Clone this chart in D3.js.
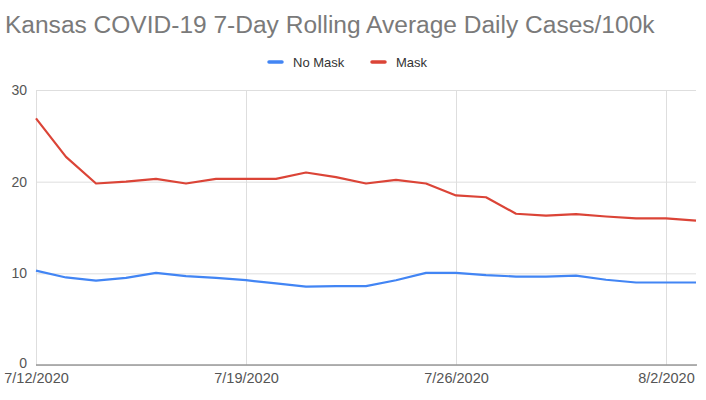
<!DOCTYPE html>
<html>
<head>
<meta charset="utf-8">
<script src="https://cdn.jsdelivr.net/npm/d3@7"></script>
<style>
  body { margin: 0; background: #fff; }
  svg { display: block; font-family: "Liberation Sans", Arial, sans-serif; }
</style>
</head>
<body>
<svg></svg>
<script>
let width = 706;
let height = 400;

let dates = ['7/12/2020', '7/13/2020', '7/14/2020', '7/15/2020', '7/16/2020', '7/17/2020',
  '7/18/2020', '7/19/2020', '7/20/2020', '7/21/2020', '7/22/2020', '7/23/2020', '7/24/2020',
  '7/25/2020', '7/26/2020', '7/27/2020', '7/28/2020', '7/29/2020', '7/30/2020', '7/31/2020',
  '8/1/2020', '8/2/2020', '8/3/2020'];

let noMask = [10.3, 9.55, 9.2, 9.5, 10.05, 9.7, 9.5, 9.25, 8.9, 8.55, 8.6, 8.6, 9.25,
  10.05, 10.05, 9.8, 9.65, 9.65, 9.75, 9.3, 9.0, 9.0, 9.0];

let mask = [26.9, 22.7, 19.8, 20.0, 20.3, 19.8, 20.3, 20.3, 20.3, 21.0, 20.5, 19.8, 20.2,
  19.8, 18.5, 18.3, 16.5, 16.3, 16.45, 16.2, 16.0, 16.0, 15.75];

let yTicks = [0, 10, 20, 30];
let xTicks = ['7/12/2020', '7/19/2020', '7/26/2020', '8/2/2020'];

let series = [
  { name: 'No Mask', values: noMask, color: '#4285f4' },
  { name: 'Mask', values: mask, color: '#db4437' }
];

let parse = d3.timeParse('%m/%d/%Y');
let fmt = d => (d.getMonth() + 1) + '/' + d.getDate() + '/' + d.getFullYear();

let svg = d3.select('svg').attr('width', width).attr('height', height);

let plotLeft = 36, plotRight = 696, plotTop = 90, plotBottom = 365;

let xScale = d3.scaleTime()
  .domain([parse(dates[0]), parse(dates[dates.length - 1])])
  .range([plotLeft, plotRight]);

let yScale = d3.scaleLinear()
  .domain([0, 30])
  .range([plotBottom, plotTop]);

// title, sized to span the same width as the original
let title = svg.append('text')
  .attr('x', 5)
  .attr('y', 33)
  .attr('font-size', 25)
  .attr('fill', '#7a7a7a')
  .text('Kansas COVID-19 7-Day Rolling Average Daily Cases/100k');
let tw = title.node().getComputedTextLength();
title.attr('font-size', 25 * 650 / tw);

// horizontal grid + y labels
let yAxis = d3.axisLeft(yScale).tickValues(yTicks).tickSize(-(plotRight - plotLeft)).tickPadding(9);
let gy = svg.append('g').attr('transform', 'translate(' + plotLeft + ',0)').call(yAxis);
gy.select('.domain').remove();
gy.selectAll('line').attr('stroke', '#dedede');
gy.selectAll('text').attr('font-size', 14).attr('fill', '#555')
  .attr('font-family', '"Liberation Sans", Arial, sans-serif');
gy.selectAll('.tick').filter(d => d === 0).select('text').attr('dy', '0.2em');

// vertical grid + x labels
let xAxis = d3.axisBottom(xScale).tickValues(xTicks.map(parse)).tickFormat(fmt)
  .tickSize(-(plotBottom - plotTop)).tickPadding(8);
let gx = svg.append('g').attr('transform', 'translate(0,' + plotBottom + ')').call(xAxis);
gx.select('.domain').remove();
gx.selectAll('line').attr('stroke', '#dedede');
gx.selectAll('text').attr('font-size', 14.5).attr('fill', '#555')
  .attr('font-family', '"Liberation Sans", Arial, sans-serif');

// baseline
svg.append('line')
  .attr('x1', plotLeft).attr('x2', plotRight + 1)
  .attr('y1', yScale(0)).attr('y2', yScale(0))
  .attr('stroke', '#999').attr('stroke-width', 1.6);

// lines
let line = d3.line()
  .x((d, i) => xScale(parse(dates[i])))
  .y(d => yScale(d));

series.forEach(s => {
  svg.append('path')
    .datum(s.values)
    .attr('d', line)
    .attr('fill', 'none')
    .attr('stroke', s.color)
    .attr('stroke-width', 2.2)
    .attr('stroke-linejoin', 'round');
});

// legend
let legendPos = [269, 372];
series.forEach((s, i) => {
  let g = svg.append('g').attr('transform', 'translate(' + legendPos[i] + ',62)');
  g.append('line').attr('x1', 0).attr('x2', 13).attr('stroke', s.color)
    .attr('stroke-width', 3.5).attr('stroke-linecap', 'round');
  g.append('text').attr('x', 24).attr('y', 4.5).attr('font-size', 13)
    .attr('fill', '#333').text(s.name);
});
</script>
</body>
</html>
